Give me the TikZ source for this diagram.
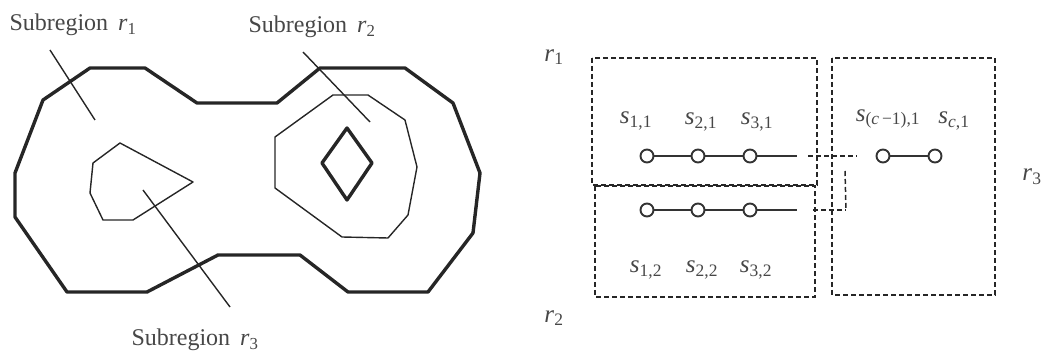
\documentclass[tikz,border=0pt]{standalone}
\usepackage{fontspec}
\setmainfont{Liberation Serif}
\newcommand\vsub[2]{\textit{#1}\textsubscript{#2}}
\begin{document}
\begin{tikzpicture}[x=1pt,y=-1pt,
  thickline/.style={draw=black!85, line width=3.4pt, line join=round},
  thinline/.style={draw=black!85, line width=1.4pt, line join=round},
  dbox/.style={draw=black!85, line width=1.8pt, dash pattern=on 5pt off 3pt},
  dlink/.style={draw=black!85, line width=1.5pt, dash pattern=on 5pt off 3pt},
  circ/.style={circle, draw=black!80, line width=1.9pt, minimum size=13pt, inner sep=0pt, fill=white},
  link/.style={draw=black!80, line width=1.6pt},
  lbl/.style={font=\fontsize{24}{28}\selectfont, text=black!72, inner sep=0pt},
  slbl/.style={font=\fontsize{25}{28}\selectfont, text=black!72, inner sep=0pt}]
\useasboundingbox (0,0) rectangle (1044,355);
% ---------- left figure ----------
\draw[thickline] (43,100) -- (90,68) -- (145,68) -- (197,103) -- (277,103) -- (320,68)
  -- (405,68) -- (453,103) -- (480,173) -- (473,233) -- (428,292) -- (348,292)
  -- (300,255) -- (218,255) -- (147,292) -- (67,292) -- (15,217) -- (15,173) -- cycle;
\draw[thinline] (120,143) -- (193,182) -- (133,220) -- (103,220) -- (90,193) -- (93,163) -- cycle;
\draw[thinline] (333,95) -- (368,95) -- (405,120) -- (417,167) -- (408,215) -- (388,238)
  -- (342,237) -- (275,188) -- (275,137) -- cycle;
\draw[thickline] (347,128) -- (372,163) -- (347,200) -- (322,163) -- cycle;
\node[lbl] (t1) at (73,25) {Subregion\, \vsub{r}{1}};
\node[lbl] (t2) at (312,27) {Subregion\, \vsub{r}{2}};
\node[lbl] (t3) at (195,340) {Subregion\, \vsub{r}{3}};
\coordinate (a1) at (50,50);  \coordinate (b1) at (95,120);
\coordinate (a2) at (303,52); \coordinate (b2) at (370,122);
\coordinate (a3) at (143,190); \coordinate (b3) at (230,307);
\draw[thinline] (a1) -- (b1);
\draw[thinline] (a2) -- (b2);
\draw[thinline] (a3) -- (b3);
% ---------- right figure ----------
\draw[dbox] (592,58) rectangle (817,185);
\draw[dbox] (595,186) rectangle (815,297);
\draw[dbox] (832,58) rectangle (995,295);
\node[slbl] (r1) at (554,57) {\vsub{r}{1}};
\node[slbl] (r2) at (554,318) {\vsub{r}{2}};
\node[slbl] (r3) at (1032,177) {\vsub{r}{3}};
% top chain
\node[circ] (c11) at (647,156) {};
\node[circ] (c21) at (698,156) {};
\node[circ] (c31) at (750,156) {};
\node[circ] (cc1) at (883,156) {};
\node[circ] (cn1) at (935,156) {};
\coordinate (e1) at (797,156);
\coordinate (d1a) at (808,156); \coordinate (d1b) at (857,156);
\draw[link] (c11) -- (c21);
\draw[link] (c21) -- (c31);
\draw[link] (c31) -- (e1);
\draw[link] (cc1) -- (cn1);
\draw[dlink] (d1a) -- (d1b);
% bottom chain
\node[circ] (c12) at (647,210) {};
\node[circ] (c22) at (698,210) {};
\node[circ] (c32) at (750,210) {};
\coordinate (e2) at (797,210);
\coordinate (d2a) at (813,210); \coordinate (d2b) at (846,210);
\coordinate (v1) at (845,171);
\draw[link] (c12) -- (c22);
\draw[link] (c22) -- (c32);
\draw[link] (c32) -- (e2);
\draw[dlink] (d2a) -- (d2b);
\draw[dlink] (v1) -- (d2b);
% labels
\node[slbl] (s11) at (636,121) {\vsub{s}{1,1}};
\node[slbl] (s21) at (701,122) {\vsub{s}{2,1}};
\node[slbl] (s31) at (757,122) {\vsub{s}{3,1}};
\node[slbl] (sc1) at (888,119) {\vsub{s}{(\textit{c}\,−1),1}};
\node[slbl] (sn1) at (954,121) {\vsub{s}{\textit{c},1}};
\node[slbl] (s12) at (646,270) {\vsub{s}{1,2}};
\node[slbl] (s22) at (702,270) {\vsub{s}{2,2}};
\node[slbl] (s32) at (756,270) {\vsub{s}{3,2}};
\end{tikzpicture}
\end{document}
